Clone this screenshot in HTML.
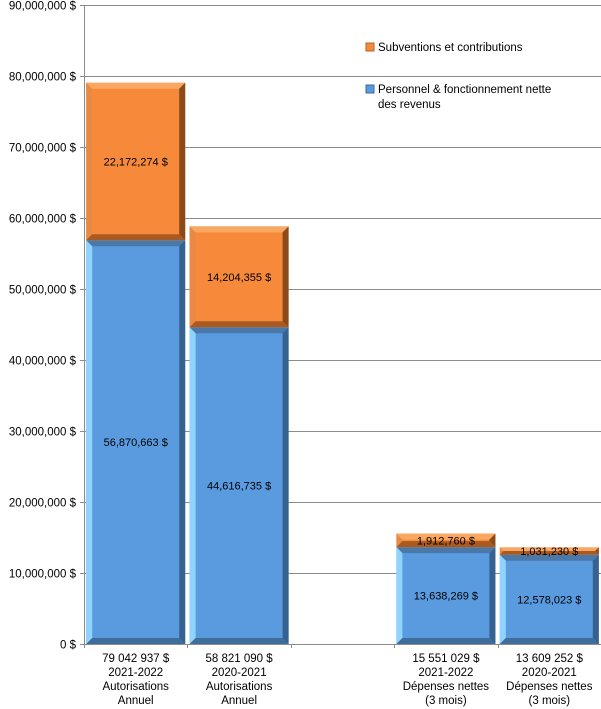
<!DOCTYPE html>
<html><head><meta charset="utf-8"><style>
body{margin:0;background:#fff}
svg{display:block;font-family:"Liberation Sans",sans-serif}
</style></head><body>
<svg id="chart" width="601" height="709">
<g id="grid"></g>
<g id="yaxis"></g>
<g id="bars"></g>
<g id="xaxis"></g>
<g>
<g>
<rect x="366" y="43" width="8" height="8" fill="#f68a3a" stroke="#b5622a" stroke-width="1"/>
<text x="378" y="51" font-size="11.5" fill="#000">Subventions et contributions</text></g>
<g>
<rect x="366" y="85" width="8" height="8" fill="#5a9be0" stroke="#3b6a98" stroke-width="1"/>
<text x="378" y="93" font-size="11.5" fill="#000">Personnel &amp; fonctionnement nette</text>
<text x="378" y="108" font-size="11.5" fill="#000">des revenus</text></g>
</g>
</svg>
<script>
const categories=[["79 042 937 $","2021-2022","Autorisations","Annuel"],["58 821 090 $","2020-2021","Autorisations","Annuel"],null,["15 551 029 $","2021-2022","Dépenses nettes","(3 mois)"],["13 609 252 $","2020-2021","Dépenses nettes","(3 mois)"]];
const personnel=[56870663,44616735,null,13638269,12578023];
const subventions=[22172274,14204355,null,1912760,1031230];
const personnelLabels=["56,870,663 $","44,616,735 $",null,"13,638,269 $","12,578,023 $"];
const subventionsLabels=["22,172,274 $","14,204,355 $",null,"1,912,760 $","1,031,230 $"];
const yTicks=[0,10000000,20000000,30000000,40000000,50000000,60000000,70000000,80000000,90000000];
const yTickLabels=["0 $","10,000,000 $","20,000,000 $","30,000,000 $","40,000,000 $","50,000,000 $","60,000,000 $","70,000,000 $","80,000,000 $","90,000,000 $"];

const NS="http://www.w3.org/2000/svg";
const X0=84,X1=601,Y0=644,Y1=5,YMAX=90000000;
const slot=(X1-X0)/categories.length;
function y(v){return Y0-(v/YMAX)*(Y0-Y1);}
function xs(i){return X0+i*slot;}
function mk(tag,attrs,parent){const e=document.createElementNS(NS,tag);for(const k in attrs)e.setAttribute(k,attrs[k]);parent.appendChild(e);return e;}
const grid=document.getElementById('grid'),ya=document.getElementById('yaxis'),bars=document.getElementById('bars'),xa=document.getElementById('xaxis');
yTicks.forEach((t,i)=>{
  const yy=Math.round(y(t))+0.5;
  if(t>0){const l=mk('line',{x1:X0,x2:X1,y1:yy,y2:yy,stroke:'#8c8c8c','stroke-width':1},grid);
  
  }
  mk('line',{x1:X0-4,x2:X0,y1:yy,y2:yy,stroke:'#8c8c8c'},ya);
  const tx=mk('text',{x:X0-8,y:yy+4,'text-anchor':'end','font-size':11.5,fill:'#000'},ya);
  tx.textContent=yTickLabels[i];
  
  
});
mk('line',{x1:X0+0.5,x2:X0+0.5,y1:Y1,y2:Y0,stroke:'#8c8c8c'},ya);
mk('line',{x1:X0,x2:X1,y1:Y0+0.5,y2:Y0+0.5,stroke:'#8c8c8c'},xa);
for(let i=0;i<=categories.length;i++){const xx=Math.round(xs(i))+0.5;mk('line',{x1:xx,x2:xx,y1:Y0,y2:Y0+4,stroke:'#8c8c8c'},xa);}
const blue={face:'#5a9be0',t:'#4a78a8',l:'#8fd4ff',r:'#35628f',b:'#3f6d9c'};
const orange={face:'#f68a3a',t:'#f9a862',l:'#e88a45',r:'#8b4a1a',b:'#a95a22'};
function bevel(x,yt,w,h,c,name,label){
  const g=mk('g',{},bars);
  
  
  const d=Math.min(6,h/2);
  mk('rect',{x:x,y:yt,width:w,height:h,fill:c.face},g);
  const x2=x+w,y2=yt+h;
  mk('polygon',{points:`${x},${yt} ${x2},${yt} ${x2-d},${yt+d} ${x+d},${yt+d}`,fill:c.t},g);
  mk('polygon',{points:`${x},${yt} ${x+d},${yt+d} ${x+d},${y2-d} ${x},${y2}`,fill:c.l},g);
  mk('polygon',{points:`${x2},${yt} ${x2},${y2} ${x2-d},${y2-d} ${x2-d},${yt+d}`,fill:c.r},g);
  mk('polygon',{points:`${x},${y2} ${x2},${y2} ${x2-d},${y2-d} ${x+d},${y2-d}`,fill:c.b},g);
  const t=mk('text',{x:x+w/2,y:yt+h/2+4,'text-anchor':'middle','font-size':11,fill:'#000'},g);
  t.textContent=label;
}
categories.forEach((c,i)=>{
  const cx=xs(i)+slot/2;
  if(c){c.forEach((line,j)=>{const t=mk('text',{x:cx,y:662+j*14,'text-anchor':'middle','font-size':11.5,fill:'#000'},xa);t.textContent=line;
    
    });}
  if(personnel[i]==null)return;
  const bw=99,bx=cx-bw/2;
  const yp=y(personnel[i]);
  bevel(bx,yp,bw,Y0-yp,blue,'bar-personnel-'+i,personnelLabels[i]);
  const ys=y(personnel[i]+subventions[i]);
  bevel(bx,ys,bw,yp-ys,orange,'bar-subventions-'+i,subventionsLabels[i]);
});
</script>
</body></html>
